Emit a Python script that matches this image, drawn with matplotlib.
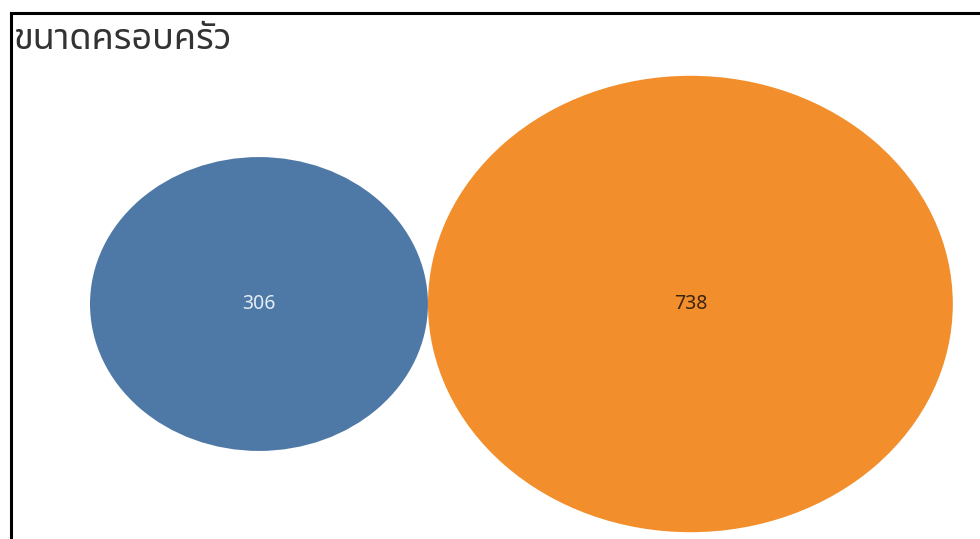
import numpy as np
import matplotlib
matplotlib.use('Agg')
import matplotlib.pyplot as plt
from matplotlib.patches import Circle
from matplotlib.lines import Line2D

# ------------------------------
# Data
# ------------------------------
title = "ขนาดครอบครัว"
labels = ["306", "738"]
values = [306, 738]
colors = ["#4e79a7", "#f28e2b"]
text_colors = ["#e3ecf5", "#3b2410"]

W, H = 980, 539
PX_X = 9.66   # px per sqrt-unit horizontally (bubbles are stretched)
PX_Y = 8.40   # px per sqrt-unit vertically

fig = plt.figure(figsize=(W / 100, H / 100), dpi=100)
ax = fig.add_axes([0, 0, 1, 1])
ax.set_xlim(0, W / PX_X)
ax.set_ylim(0, H / PX_Y)
ax.axis('off')

# packed bubbles: radius ~ sqrt(value), placed side by side, touching
radii = np.sqrt(values)
cy = (H - 304) / PX_Y
x = 90 / PX_X
for r, v, lab, c, tc in zip(radii, values, labels, colors, text_colors):
    cx = x + r
    ax.add_patch(Circle((cx, cy), r, facecolor=c, edgecolor='none'))
    ax.text(cx, cy, lab, ha='center', va='center', fontsize=14,
            color=tc, family=['Noto Sans', 'DejaVu Sans'])
    x = cx + r

# frame (only top and left edges visible in the crop)
fig.add_artist(Line2D([11 / W, 1], [1 - 13 / H, 1 - 13 / H], color='black', lw=2.2,
                      transform=fig.transFigure))
fig.add_artist(Line2D([11 / W, 11 / W], [0, 1 - 13 / H], color='black', lw=2.2,
                      transform=fig.transFigure))

fig.text(13 / W, 1 - 49 / H, title, fontsize=26, color='#333333', va='baseline', ha='left',
         family=['Noto Sans Thai', 'DejaVu Sans'])

fig.savefig('out.png', dpi=100)
